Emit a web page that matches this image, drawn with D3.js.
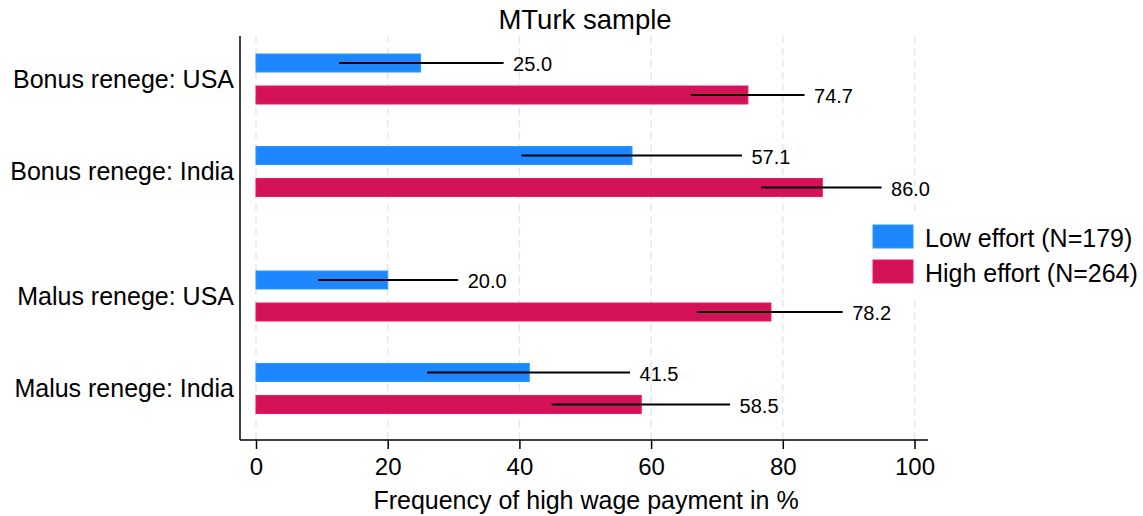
<!DOCTYPE html>
<html>
<head>
<meta charset="utf-8">
<script src="https://cdn.jsdelivr.net/npm/d3@7"></script>
<style>
  body { margin: 0; background: #fff; }
  text { font-family: "Liberation Sans", Arial, Helvetica, sans-serif; fill: #000; }
</style>
</head>
<body>
<div id="chart"></div>
<script>
// Data
var treatments = ["Bonus renege", "Malus renege"];
var countries = ["USA", "India"];
var efforts = ["Low effort (N=179)", "High effort (N=264)"];

// order: Bonus/USA, Bonus/India, Malus/USA, Malus/India
var lowMeans  = [25.0, 57.1, 20.0, 41.5];
var lowLower  = [12.6, 40.3, 9.4, 26.0];
var lowUpper  = [37.6, 73.8, 30.7, 56.8];
var highMeans = [74.7, 86.0, 78.2, 58.5];
var highLower = [66.0, 76.7, 67.0, 44.9];
var highUpper = [83.3, 95.0, 89.1, 72.0];
var xTicks = [0, 20, 40, 60, 80, 100];

var colors = ["#1e87ff", "#d41257"];

var width = 1143, height = 516;
var plot = {left: 240, right: 928, top: 36, bottom: 440};

// build rows from the arrays
var rows = [];
treatments.forEach(function(t, ti) {
    countries.forEach(function(c, ci) {
        var i = ti * countries.length + ci;
        rows.push({treatment: t, country: c, label: t + ": " + c,
            bars: [
                {effort: efforts[0], mean: lowMeans[i], lo: lowLower[i], hi: lowUpper[i]},
                {effort: efforts[1], mean: highMeans[i], lo: highLower[i], hi: highUpper[i]}
            ]});
    });
});

var svg = d3.select("#chart").append("svg")
    .attr("width", width)
    .attr("height", height);

var x = d3.scaleLinear().domain([0, 100]).range([256, 914.5]);

// nested bands: treatment -> country -> effort
var yOuter = d3.scaleBand().domain(treatments).range([16.75, 450.75]).padding(0);
var yCountry = d3.scaleBand().domain(countries).range([0, yOuter.bandwidth()]).padding(0.346);
var half = yCountry.bandwidth() / 2;
var yEffort = d3.scaleBand().domain(efforts)
    .range([half - 32, half + 32])
    .paddingInner(0.4375).paddingOuter(0.21875);

function rowTop(d) { return yOuter(d.treatment) + yCountry(d.country); }
function rowMid(d) { return rowTop(d) + half; }

// grid lines
svg.append("g").selectAll("line")
    .data(xTicks)
    .join("line")
    .attr("x1", function(d) { return x(d); })
    .attr("x2", function(d) { return x(d); })
    .attr("y1", plot.top)
    .attr("y2", plot.bottom)
    .attr("stroke", "#e6e6e6")
    .attr("stroke-width", 1.5)
    .attr("stroke-dasharray", "7,5");

// bars + error bars + labels
var rowG = svg.append("g").selectAll("g.row")
    .data(rows)
    .join("g")
    .attr("class", "row")
    .attr("transform", function(d) { return "translate(0," + rowTop(d) + ")"; });

var barG = rowG.selectAll("g.bar")
    .data(function(d) { return d.bars; })
    .join("g")
    .attr("class", "bar");

barG.append("rect")
    .attr("x", x(0))
    .attr("y", function(d) { return yEffort(d.effort); })
    .attr("width", function(d) { return x(d.mean) - x(0); })
    .attr("height", yEffort.bandwidth())
    .attr("fill", function(d) { return colors[efforts.indexOf(d.effort)]; })
    .attr("stroke", function(d) { return d3.color(colors[efforts.indexOf(d.effort)]).brighter(0.4); })
    .attr("stroke-width", 1);

barG.append("line")
    .attr("x1", function(d) { return x(d.lo); })
    .attr("x2", function(d) { return x(d.hi); })
    .attr("y1", function(d) { return yEffort(d.effort) + yEffort.bandwidth() / 2; })
    .attr("y2", function(d) { return yEffort(d.effort) + yEffort.bandwidth() / 2; })
    .attr("stroke", "#000")
    .attr("stroke-width", 2);

barG.append("text")
    .attr("x", function(d) { return x(d.hi) + 9.5; })
    .attr("y", function(d) { return yEffort(d.effort) + yEffort.bandwidth() / 2 + 1; })
    .attr("dy", "0.36em")
    .attr("font-size", "20px")
    .text(function(d) { return d3.format(".1f")(d.mean); });

// y labels
svg.append("g").selectAll("text")
    .data(rows)
    .join("text")
    .attr("x", 234)
    .attr("y", rowMid)
    .attr("dy", "0.36em")
    .attr("text-anchor", "end")
    .attr("font-size", "25px")
    .text(function(d) { return d.label; });

// axes lines
svg.append("line")
    .attr("x1", plot.left).attr("x2", plot.left)
    .attr("y1", plot.top).attr("y2", plot.bottom)
    .attr("stroke", "#000").attr("stroke-width", 1.5);

var xAxis = svg.append("g")
    .attr("transform", "translate(0," + plot.bottom + ")")
    .call(d3.axisBottom(x).tickValues(xTicks).tickSize(9).tickPadding(9).tickSizeOuter(0));
xAxis.select(".domain").remove();
xAxis.append("line")
    .attr("x1", plot.left).attr("x2", plot.right)
    .attr("stroke", "#000").attr("stroke-width", 1.5);
xAxis.selectAll(".tick line").attr("stroke", "#000").attr("stroke-width", 1.5);
xAxis.selectAll(".tick text")
    .attr("font-size", "24px")
    .attr("font-family", "Liberation Sans, Arial, sans-serif")
    .attr("fill", "#000");

// axis title
svg.append("text")
    .attr("x", 586)
    .attr("y", 509)
    .attr("text-anchor", "middle")
    .attr("font-size", "25px")
    .text("Frequency of high wage payment in %");

// chart title
svg.append("text")
    .attr("x", 585)
    .attr("y", 29)
    .attr("text-anchor", "middle")
    .attr("font-size", "27.5px")
    .text("MTurk sample");

// legend
var legend = svg.append("g").attr("transform", "translate(866,215)");
legend.append("rect")
    .attr("width", 277).attr("height", 80)
    .attr("fill", "#fff");
var legItem = legend.selectAll("g.item")
    .data(efforts)
    .join("g")
    .attr("class", "item")
    .attr("transform", function(d, i) { return "translate(0," + (10 + i * 35) + ")"; });
legItem.append("rect")
    .attr("x", 7).attr("width", 40).attr("height", 23)
    .attr("fill", function(d, i) { return colors[i]; })
    .attr("stroke", function(d, i) { return d3.color(colors[i]).brighter(0.4); });
legItem.append("text")
    .attr("x", 59)
    .attr("y", 22)
    .attr("font-size", "25px")
    .text(function(d) { return d; });
</script>
</body>
</html>
